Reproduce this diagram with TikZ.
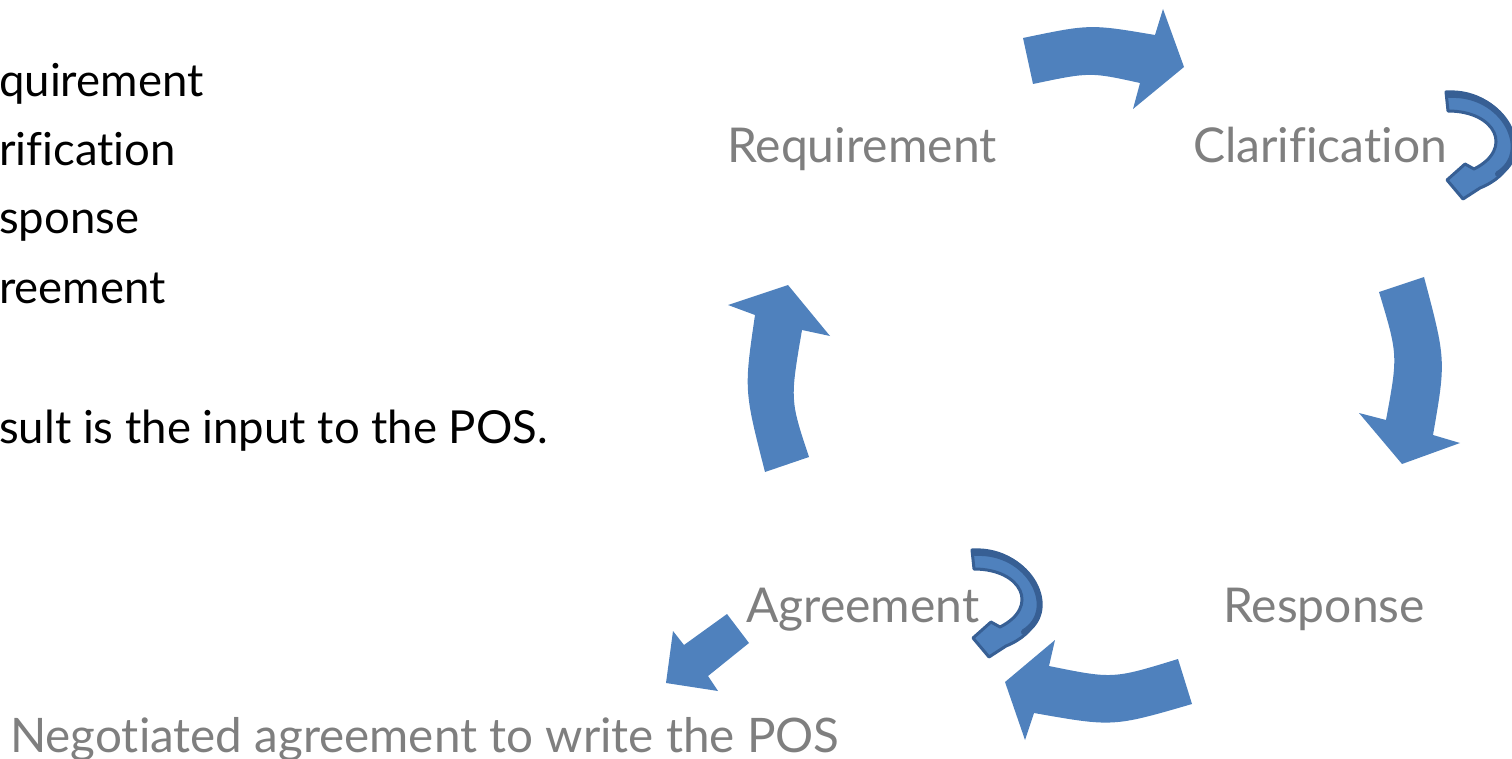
\documentclass[tikz,border=0pt]{standalone}
\usepackage{fontspec}
\setmainfont[Ligatures={NoCommon,NoRare,NoContextual},RawFeature={-liga;-dlig;-clig}]{Lato}
\definecolor{arrowblue}{HTML}{4F81BD}
\definecolor{curlfill}{HTML}{4F81BD}
\definecolor{curledge}{HTML}{375F94}
\definecolor{labelgray}{HTML}{7F7F7F}
\begin{document}
\begin{tikzpicture}[x=1pt,y=-1pt,
  blockarrow/.style={fill=arrowblue,draw=none},
  curlshape/.style={fill=curlfill,draw=curledge,line width=3pt,line join=round},
  curlrim/.style={draw=curledge,line width=6pt,line cap=round},
  graylabel/.style={text=labelgray,font=\fontsize{48}{48}\selectfont,inner sep=0pt,anchor=base west},
  blacklabel/.style={text=black,font=\fontsize{45.5}{45.5}\selectfont,inner sep=0pt,anchor=base west},
  curlarrow/.pic={
    \path[curlshape] (0,0) .. controls (61,-4) and (98,70) .. (34,96)
      -- (17,107) -- (1,88) -- (19,72) -- (28,77)
      .. controls (68,57) and (50,19) .. (2,19) -- cycle;
    \path[curlrim] (3,3) .. controls (58,0) and (88,60) .. (52,82);
  }]
\useasboundingbox (0,0) rectangle (1512,759);

% left text (cut off at the left edge)
\node[blacklabel] (t1) at (-1,97) {quirement};
\node[blacklabel] (t2) at (-1,166) {rification};
\node[blacklabel] (t3) at (-1,234) {sponse};
\node[blacklabel] (t4) at (-1,303) {reement};
\node[blacklabel] (t5) at (-1,443) {sult is the input to the POS.};

% cycle labels
\node[graylabel] (req) at (727,163) {Requirement};
\node[graylabel] (cla) at (1193,163) {Clarification};
\node[graylabel] (res) at (1223,622) {Response};
\node[graylabel] (agr) at (746,622) {Agreement};
\node[graylabel,font=\fontsize{47.6}{47.6}\selectfont] (neg) at (10,752) {Negotiated agreement to write the POS};

% top arrow
\path[blockarrow] (1023,38) .. controls (1090,24) .. (1155,35)
  -- (1163,9) -- (1184,67) -- (1133,109) -- (1140,83)
  .. controls (1090,72) .. (1033,84) -- cycle;
% right arrow
\path[blockarrow] (1424,277) .. controls (1446,360) .. (1433,435)
  -- (1460,443) -- (1402,464) -- (1359,413) -- (1386,420)
  .. controls (1398,355) .. (1379,292) -- cycle;
% bottom arrow
\path[blockarrow] (1178,659) .. controls (1113,679) .. (1049,666)
  -- (1055,640) -- (1005,682) -- (1025,740) -- (1034,713)
  .. controls (1113,727) .. (1192,704) -- cycle;
% left arrow
\path[blockarrow] (765,472) .. controls (744,390) .. (755,315)
  -- (728,305) -- (788,285) -- (830,336) -- (802,330)
  .. controls (790,400) .. (809,457) -- cycle;
% outgoing straight arrow
\path[blockarrow] (727,614) -- (684,645) -- (673,631) -- (666,683)
  -- (718,691) -- (708,676) -- (749,643) -- cycle;

% curled arrows
\pic at (1446,92) {curlarrow};
\pic at (972,550) {curlarrow};
\end{tikzpicture}
\end{document}
